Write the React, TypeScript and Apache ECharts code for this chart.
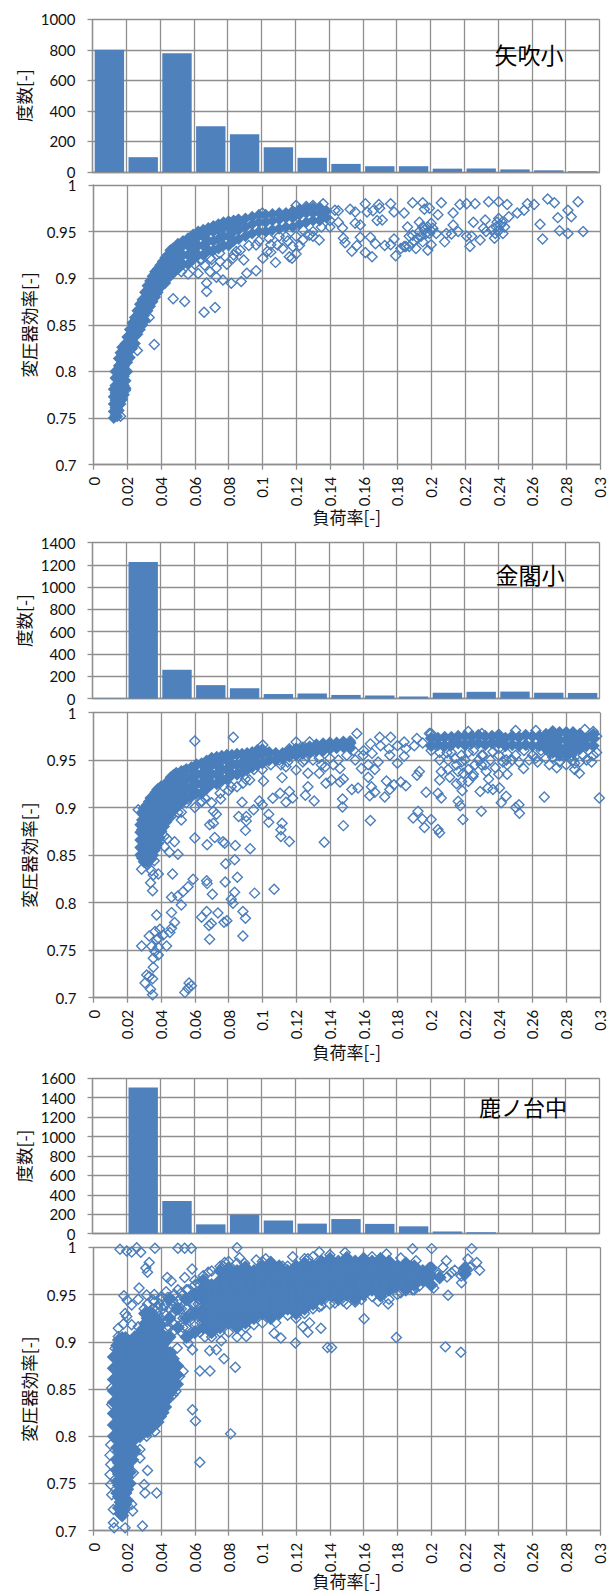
import React, { useEffect, useRef } from "react";
import * as echarts from "echarts";

const binLabels = ["0-0.02","0.02-0.04","0.04-0.06","0.06-0.08","0.08-0.1","0.1-0.12","0.12-0.14","0.14-0.16","0.16-0.18","0.18-0.2","0.2-0.22","0.22-0.24","0.24-0.26","0.26-0.28","0.28-0.3"];

const barsA = [800,97,778,300,248,162,93,53,38,38,22,23,17,11,5];
const barsB = [2,1225,258,120,92,40,45,32,27,18,52,60,62,52,50];
const barsC = [3,1505,335,95,195,135,103,150,100,75,22,14,1,1,0];

// Overplotted clouds, read column by column: [load factor, efficiency, efficiency, ...]
const denseA: number[][] = [
[.012,.75,.757,.765,.773,.781],[.013,.753,.761,.769,.777,.785,.793,.80],[.014,.752,.76,.768,.776,.784,.792,.80],[.015,.758,.766,.774,.782,.79,.798,.806,.814],[.016,.765,.773,.781,.789,.797,.805,.813,.82],
[.017,.77,.778,.786,.794,.802,.81,.818,.826],[.018,.775,.785,.795,.805,.815,.825],[.019,.782,.79,.80,.81,.82,.83],[.020,.80,.81,.82,.83,.837],[.0215,.815,.825,.835,.845],[.023,.825,.835,.845,.852],[.0245,.83,.84,.85,.858],[.026,.84,.85,.858,.865],[.0275,.845,.855,.865,.872],
[.029,.85,.86,.87,.877],[.0305,.855,.865,.875,.885],[.032,.865,.875,.885,.892],[.0335,.87,.88,.89,.897],[.035,.875,.885,.895,.902],[.0365,.88,.89,.90,.907],[.038,.885,.895,.905,.91],[.0395,.89,.90,.91,.914],[.041,.893,.90,.91,.918],[.0425,.895,.905,.915,.922],
[.044,.90,.91,.92,.925],[.0455,.903,.913,.923,.93],[.047,.905,.915,.925,.932],[.05,.91,.92,.93,.937],[.053,.915,.925,.935,.94],[.056,.915,.925,.935,.943],
[.059,.92,.93,.94,.947],[.062,.925,.935,.945,.95],[.065,.925,.935,.945,.952],[.068,.93,.94,.95,.954],[.071,.93,.94,.95,.956],
[.074,.932,.942,.952,.958],[.077,.935,.945,.955,.96],[.08,.935,.945,.955,.961],[.083,.94,.95,.958,.962],[.086,.942,.952,.96,.963],
[.09,.945,.955,.964],[.094,.948,.958,.966],[.098,.95,.96,.968],[.102,.95,.96,.968],[.106,.952,.962,.969],[.11,.953,.963,.97],
[.114,.955,.965,.97],[.118,.955,.965,.972],[.122,.958,.968,.974],[.126,.96,.97,.975],[.13,.962,.97,.976],[.134,.962,.97,.976],[.138,.965,.972],
];
const denseB: number[][] = [
[.028,.85,.858,.866,.874,.882],[.029,.847,.857,.867,.877,.887,.895],[.030,.843,.852,.862,.872,.882,.892,.899],[.031,.848,.858,.868,.878,.888,.898],[.032,.843,.853,.863,.873,.883,.893,.903],[.033,.848,.858,.868,.878,.888,.898,.906],
[.034,.846,.856,.866,.876,.886,.896,.906,.910],[.035,.85,.86,.87,.88,.89,.90,.91],[.036,.855,.865,.875,.885,.895,.905,.913],[.037,.858,.868,.878,.888,.898,.908,.916],[.038,.862,.872,.882,.892,.902,.912,.919],[.039,.868,.878,.888,.898,.908,.918],
[.040,.875,.885,.895,.905,.915,.922],[.0415,.88,.89,.90,.91,.92],[.043,.885,.895,.905,.915,.925],[.0445,.89,.90,.91,.92,.928],[.046,.895,.905,.915,.925,.932],[.0475,.898,.908,.918,.928,.934],[.049,.90,.91,.92,.93,.936],[.0505,.903,.913,.923,.933],
[.052,.905,.915,.925,.935,.938],[.0535,.908,.918,.928,.938],[.055,.91,.92,.93,.94],[.058,.912,.922,.932,.942],[.061,.915,.925,.935,.945],[.064,.915,.925,.935,.946],
[.067,.92,.93,.94,.949],[.07,.925,.935,.945,.952],[.073,.925,.935,.945,.953],[.076,.93,.94,.95,.954],[.079,.93,.94,.95,.955],
[.082,.935,.945,.955],[.085,.935,.945,.956],[.088,.937,.947,.956],[.091,.94,.95,.957],[.094,.943,.953,.958],[.097,.945,.955,.96],
[.1,.947,.957,.961],[.104,.95,.958],[.108,.95,.957],[.112,.952,.957],[.116,.954,.96],[.12,.955,.962],[.124,.957,.963],[.128,.958,.964],
[.132,.96,.966],[.136,.96,.967],[.14,.962,.968],[.144,.963,.968],[.148,.964,.969],[.152,.963,.968],
[.20,.965,.973],[.204,.966,.973],[.208,.965,.974],[.212,.966,.974],[.216,.968,.975],[.22,.966,.975],[.224,.968,.975],[.228,.968,.976],
[.232,.966,.975],[.236,.968,.975],[.24,.968,.975],[.244,.965,.973],[.248,.966,.975],[.252,.965,.974],[.256,.966,.976],[.26,.965,.975],
[.264,.965,.975],[.268,.962,.97,.977],[.272,.958,.966,.974,.98],[.276,.955,.963,.971,.979],[.28,.955,.963,.971,.979],[.284,.958,.966,.974,.979],
[.288,.962,.97,.977],[.292,.965,.973],[.296,.965,.973,.977],
];
const denseC: number[][] = [
[.012,.80,.812,.824,.836,.848,.86,.872,.884],[.014,.74,.752,.764,.776,.788,.80,.812,.824,.836,.848,.86,.872,.884,.896],
[.015,.724,.736,.748,.76,.772,.784,.796,.808,.82,.832,.844,.856,.868,.88,.892,.902],
[.016,.718,.73,.742,.754,.766,.778,.79,.802,.814,.826,.838,.85,.862,.874,.886,.898],
[.017,.716,.728,.74,.752,.764,.776,.788,.80,.812,.824,.836,.848,.86,.872,.884,.896,.904],
[.018,.722,.734,.746,.758,.77,.782,.794,.806,.818,.83,.842,.854,.866,.878,.89,.90],
[.019,.728,.74,.752,.764,.776,.788,.80,.812,.824,.836,.848,.86,.872,.884,.896,.904],
[.02,.732,.744,.756,.768,.78,.792,.804,.816,.828,.84,.852,.864,.876,.888,.898],
[.0215,.75,.762,.774,.786,.798,.81,.822,.834,.846,.858,.87,.882,.894,.90],
[.023,.775,.787,.799,.811,.823,.835,.847,.859,.871,.883,.895,.90],[.0245,.785,.797,.809,.821,.833,.845,.857,.869,.881,.893,.905],[.026,.80,.812,.824,.836,.848,.86,.872,.884,.896,.906],
[.0275,.80,.811,.823,.835,.847,.859,.871,.883,.895,.907],[.029,.805,.817,.829,.841,.853,.865,.877,.889,.901,.913],[.0305,.811,.823,.835,.847,.859,.871,.883,.895,.907,.919,.93],[.032,.805,.817,.829,.841,.853,.865,.877,.889,.901,.913,.925],
[.0335,.811,.823,.835,.847,.859,.871,.883,.895,.907,.919,.93],[.035,.81,.822,.834,.846,.858,.87,.882,.894,.906,.918,.928],[.0365,.816,.828,.84,.852,.864,.876,.888,.90,.912,.924],[.038,.815,.827,.839,.851,.863,.875,.887,.899,.911,.923],
[.0395,.821,.833,.845,.857,.869,.881,.893,.905,.917],[.041,.825,.837,.849,.861,.873,.885,.897,.907],[.0425,.831,.843,.855,.867,.879,.891,.90],[.044,.84,.852,.864,.876,.888],[.0455,.846,.858,.87,.882,.888],[.047,.85,.862,.874,.882],[.0495,.855,.865,.875],
[.045,.905,.925,.945],[.05,.915,.935],[.055,.905,.925,.945],[.06,.91,.93,.95],[.065,.915,.925,.935,.945,.955,.965],[.07,.91,.92,.93,.94,.95,.96],
[.075,.915,.925,.935,.945,.955,.965,.975],[.08,.92,.93,.94,.95,.96,.97,.978],[.085,.915,.925,.935,.945,.955,.965,.975],[.09,.92,.93,.94,.95,.96,.97,.978],
[.095,.925,.935,.945,.955,.965,.975],[.1,.93,.94,.95,.96,.97,.98],[.105,.925,.935,.945,.955,.965,.975,.983],[.11,.93,.94,.95,.96,.97,.98],
[.115,.935,.945,.955,.965,.975],[.12,.93,.94,.95,.96,.97,.98],[.125,.935,.945,.955,.965,.975,.983],[.13,.94,.95,.96,.97,.98],
[.135,.945,.955,.965,.975,.985],[.14,.95,.96,.97,.98,.988],[.145,.945,.955,.965,.975,.985],[.15,.95,.96,.97,.98,.988],[.155,.945,.955,.965,.975,.985],
[.16,.95,.96,.97,.98,.988],[.165,.955,.965,.975,.985],[.17,.95,.96,.97,.98,.988],[.175,.955,.965,.975,.985],[.18,.96,.97,.98],[.185,.955,.965,.975,.983],
[.19,.96,.97,.98],[.195,.965,.975],[.2,.96,.97,.978],[.205,.968],[.22,.972,.978],
];

// Individually readable markers
const pointsA: number[][] = [
[.145,.9725],[.152,.974],[.161,.98],[.169,.979],[.176,.98],[.189,.981],[.195,.981],[.206,.981],[.217,.979],[.221,.98],[.226,.98],[.234,.982],[.24,.982],[.245,.979],[.257,.98],[.261,.979],[.269,.985],[.273,.981],[.287,.982],[.281,.973],[.283,.966],[.275,.965],[.2645,.958],[.266,.942],[.276,.951],[.281,.948],[.29,.95],
[.155,.959],[.158,.957],[.1475,.954],[.168,.962],[.171,.9625],[.155,.971],[.162,.971],[.1655,.9725],[.1695,.975],[.178,.971],[.184,.97],[.196,.974],[.199,.975],[.204,.968],[.213,.97],[.193,.96],[.186,.955],[.2,.959],[.213,.957],[.225,.96],[.232,.9625],[.24,.964],[.246,.966],[.251,.97],[.255,.973],
[.148,.943],[.149,.938],[.153,.929],[.156,.935],[.158,.944],[.164,.944],[.167,.937],[.161,.9275],[.165,.923],[.1725,.935],[.176,.936],[.178,.942],[.179,.924],[.184,.934],[.187,.934],[.191,.932],[.198,.93],[.2,.936],[.189,.946],[.192,.943],[.199,.948],[.201,.9535],[.196,.952],[.187,.945],[.208,.939],[.209,.948],[.212,.9475],[.216,.95],[.221,.945],[.224,.945],[.223,.934],[.229,.941],[.231,.9535],[.2375,.943],[.2425,.948],[.2325,.95],[.2385,.955],[.2435,.955],[.195,.939],[.185,.934],[.203,.948],[.182,.932],
[.193,.95],[.195,.955],[.197,.948],[.198,.955],[.2,.951],[.19,.94],[.194,.945],[.238,.948],[.24,.951],[.241,.957],[.239,.96],[.242,.96],[.236,.952],
[.0472,.878],[.054,.875],[.0655,.8636],[.072,.8686],[.067,.8857],[.033,.858],[.0816,.8946],[.0875,.8964],[.0908,.9054],[.0963,.908],[.1078,.917],[.1003,.9214],[.116,.923],[.1176,.9214],[.056,.9046],[.0767,.898],[.067,.895],[.062,.905],[.069,.907],[.0728,.901],[.0728,.911],[.0658,.914],[.069,.9214],[.0747,.9268],[.0826,.9214],[.089,.9196],[.0846,.9286],[.0963,.9357],[.103,.9286],[.109,.9357],[.118,.934],[.124,.941],[.1337,.941],[.128,.9464],[.114,.9446],[.105,.936],[.052,.907],[.045,.91],
[.036,.829],[.026,.8225],[.0465,.925],[.0855,.9625],[.1,.97],[.12,.978],[.126,.977],[.13,.978],[.136,.98],[.143,.973],[.03,.86],[.024,.85],[.019,.78],[.016,.752],[.024,.84],
[.06,.915],[.064,.92],[.07,.92],[.075,.918],[.079,.915],[.083,.925],[.087,.93],[.092,.935],[.098,.94],[.104,.943],[.11,.945],[.115,.94],[.12,.945],[.124,.952],[.13,.95],[.135,.955],[.14,.955],[.14,.962],[.145,.96],[.105,.928],[.112,.932],[.12,.926],[.122,.935],[.13,.945],
];
const pointsB: number[][] = [
[.156,.978],[.152,.97],[.1695,.974],[.176,.974],[.184,.969],[.1915,.9726],[.199,.978],[.164,.967],[.1597,.955],[.154,.96],[.1755,.955],[.18,.9465],[.184,.954],[.1686,.948],[.1587,.941],[.1627,.945],[.1666,.94],[.146,.941],[.142,.945],[.1627,.932],[.148,.93],[.146,.927],[.141,.929],[.1735,.928],[.182,.927],[.185,.923],[.178,.924],[.1646,.922],[.1567,.9205],[.153,.919],[.1755,.919],[.1636,.9125],[.1666,.916],[.1725,.911],[.197,.916],[.204,.915],[.206,.91],[.1475,.909],[.1475,.9007],[.164,.8865],[.148,.881],[.193,.938],[.1916,.934],[.205,.95],[.206,.938],[.205,.929],[.211,.932],[.2094,.9576],[.216,.938],[.218,.948],[.219,.936],[.218,.9274],[.222,.9274],[.2247,.9326],[.2184,.9177],[.216,.9066],[.2172,.902],[.2188,.8875],[.2297,.896],[.1893,.889],[.1922,.896],[.1948,.888],[.2,.8875],[.196,.879],[.204,.877],[.205,.8736],
[.2326,.938],[.2297,.945],[.2336,.9205],[.229,.917],[.2366,.919],[.2405,.9205],[.2444,.912],[.2415,.905],[.25,.9],[.252,.903],[.2523,.894],[.267,.911],[.2996,.91],[.2425,.948],[.2445,.95],[.2547,.941],[.2744,.942],[.285,.94],[.2878,.936],[.285,.9465],[.2306,.955],[.2366,.9587],
[.24,.962],[.245,.957],[.25,.955],[.255,.96],[.26,.955],[.265,.96],[.262,.952],[.27,.958],[.272,.953],[.275,.962],[.278,.955],[.28,.96],[.283,.955],[.286,.962],[.29,.955],[.293,.96],[.296,.955],[.298,.958],[.298,.975],[.296,.98],[.291,.982],[.287,.975],[.225,.96],[.23,.955],[.218,.955],[.222,.958],[.214,.952],[.222,.98],[.2,.978],[.25,.981],[.262,.981],[.23,.978],[.24,.977],
[.06,.97],[.0828,.974],[.0265,.8976],[.052,.895],[.052,.887],[.06,.868],[.0753,.909],[.064,.906],[.056,.909],[.071,.896],[.0728,.893],[.0688,.882],[.071,.8836],[.0673,.861],[.0718,.8685],[.0767,.864],[.0777,.8625],[.084,.86],[.0928,.8566],[.116,.8643],[.111,.8696],[.111,.8766],[.1117,.8836],[.1367,.8636],[.09,.876],[.086,.8906],[.088,.9056],[.0905,.8906],[.0905,.886],[.1038,.893],[.1038,.8846],[.0983,.907],[.0948,.8976],[.1,.903],[.1062,.9098],[.1105,.915],[.116,.917],[.114,.9056],[.118,.91],[.1255,.913],[.1307,.907],[.127,.922],[.1117,.9315],[.127,.936],[.1007,.928],[.0885,.9255],[.0925,.929],[.0816,.922],[.0747,.9255],[.064,.907],[.1337,.936],[.1373,.943],[.1337,.952],[.1377,.9255],[.12,.9395],[.114,.943],[.124,.948],[.116,.962],[.12,.969],[.128,.969],[.1003,.9657],[.1042,.9535],[.108,.957],[.111,.945],[.0437,.867],[.042,.87],[.042,.859],[.048,.864],[.045,.853],[.05,.851],[.036,.844],[.046,.8905],
[.0285,.835],[.0315,.841],[.0344,.8336],[.0384,.83],[.0354,.829],[.0468,.83],[.0338,.821],[.035,.8126],[.0783,.841],[.0836,.845],[.059,.8245],[.056,.8168],[.053,.8115],[.05,.807],[.0462,.8056],[.052,.7975],[.067,.823],[.0673,.82],[.0704,.8087],[.078,.8217],[.0852,.8266],[.0836,.811],[.0954,.81],[.107,.814],[.0816,.8035],[.0826,.7993],[.0462,.7895],[.0374,.787],[.064,.7846],[.067,.7906],[.0737,.789],[.0698,.778],[.0684,.776],[.0773,.7794],[.079,.781],[.0885,.7906],[.09,.7836],[.0885,.765],[.0688,.7615],[.048,.779],[.0462,.773],[.0452,.7685],[.0393,.772],[.0364,.7696],[.033,.765],[.0413,.766],[.0384,.7626],[.0433,.7545],[.0285,.7545],[.0344,.754],[.0384,.753],[.0364,.7486],[.0354,.7416],[.0384,.745],[.0354,.732],[.0315,.724],[.033,.7224],[.0305,.7154],[.035,.72],[.0338,.709],[.035,.703],[.0541,.7056],[.056,.71],[.058,.7126],[.0566,.7154],[.0374,.761],
[.05,.895],[.055,.905],[.06,.9],[.066,.91],[.07,.905],[.075,.915],[.08,.918],[.085,.922],[.09,.93],[.095,.94],[.1,.94],[.105,.945],[.11,.95],[.115,.948],[.125,.95],[.13,.95],[.135,.945],[.14,.952],[.145,.95],[.15,.955],[.155,.95],[.16,.96],[.165,.957],[.17,.965],[.175,.962],[.18,.965],[.185,.962],[.19,.965],[.195,.968],[.2,.96],[.205,.958],[.21,.95],[.212,.958],[.215,.945],[.22,.95],[.222,.94],[.226,.945],[.228,.95],[.232,.945],[.235,.95],[.238,.942],[.24,.955],[.245,.945],[.248,.95],[.252,.948],[.258,.95],[.263,.948],[.268,.952],[.27,.945],[.276,.948],[.28,.945],[.284,.95],[.288,.948],[.292,.95],[.295,.948],[.234,.93],[.24,.935],[.225,.935],[.21,.94],[.215,.925],[.245,.935],
];
const pointsC: number[][] = [
[.189,.9985],[.2003,.9986],[.224,.9986],[.149,.9946],[.1735,.993],[.182,.9886],[.191,.9857],[.209,.9857],[.2218,.9875],[.227,.984],[.2287,.9757],[.207,.9786],[.2094,.9686],[.214,.9757],[.218,.9625],[.21,.9493],[.2015,.957],[.1603,.9243],[.1794,.9046],[.2084,.8946],[.2176,.889],[.141,.894],[.1745,.94],[.1686,.943],[.1587,.9446],[.143,.941],[.148,.943],[.182,.952],[.189,.955],[.1774,.957],[.219,.975],[.221,.977],[.223,.9786],[.2178,.9696],[.22,.971],[.212,.973],[.204,.971],[.199,.9786],[.195,.971],[.198,.964],[.193,.959],[.187,.959],[.184,.971],[.187,.98],
[.0157,.998],[.0197,.996],[.0226,.995],[.0256,.9996],[.028,.9947],[.0364,.999],[.05,.999],[.054,.999],[.058,.999],[.085,.9996],[.033,.984],[.031,.978],[.032,.9736],[.027,.957],[.018,.9486],[.0265,.945],[.0315,.9496],[.02,.944],[.0226,.939],[.0187,.93],[.0177,.9187],[.0147,.9144],[.0197,.9268],[.0226,.918],[.0265,.916],
[.0437,.968],[.046,.9644],[.054,.968],[.0584,.977],[.062,.962],[.068,.9736],[.0403,.948],[.0354,.944],[.0777,.984],[.0767,.98],[.0865,.989],[.0964,.9866],[.102,.988],[.112,.98],[.118,.99],[.127,.988],[.1337,.995],[.0895,.983],
[.063,.869],[.069,.869],[.084,.873],[.0773,.882],[.0688,.8905],[.0728,.8915],[.0905,.9056],[.0757,.901],[.0586,.8915],[.0496,.8933],[.056,.8986],[.0586,.828],[.0604,.816],[.0812,.8025],[.063,.7725],[.032,.7637],[.0236,.7613],[.03,.749],[.0305,.74],[.0374,.74],[.0232,.7208],[.0226,.728],[.029,.705],[.0187,.703],[.0122,.703],[.0118,.7085],[.0275,.777],[.0275,.786],[.0102,.77],[.0098,.7595],[.0102,.749],[.0108,.738],[.0118,.7225],
[.111,.904],[.107,.909],[.1196,.8986],[.127,.91],[.1347,.9144],[.1386,.894],[.124,.916],[.128,.92],[.1337,.937],[.122,.944],[.108,.92],[.0108,.851],[.0108,.8335],[.0102,.791],[.0098,.78],[.0531,.8687],[.051,.8634],[.0488,.8475],[.0472,.844],[.0433,.837],[.0393,.823],[.0364,.805],[.0315,.8],[.0128,.893],[.0147,.9056],
[.03,.935],[.032,.94],[.034,.932],[.036,.942],[.038,.936],[.04,.945],[.042,.938],[.044,.947],[.046,.94],[.048,.95],[.05,.943],[.052,.952],[.054,.945],[.056,.955],[.058,.948],[.06,.96],[.04,.925],[.043,.915],[.045,.935],[.047,.92],[.05,.925],[.053,.915],[.055,.935],[.057,.922],[.06,.94],[.062,.93],[.064,.92],[.066,.905],[.058,.91],[.063,.91],[.07,.905],[.075,.91],[.08,.91],[.085,.905],[.09,.915],[.095,.918],[.1,.92],[.105,.925],[.11,.93],[.115,.928],[.12,.925],[.125,.93],[.13,.935],[.135,.938],[.14,.94],[.15,.94],[.155,.942],[.165,.948],[.17,.948],[.175,.945],[.18,.95],[.19,.955],[.055,.955],[.06,.965],[.065,.97],[.07,.975],[.075,.98],[.08,.985],[.085,.983],[.09,.98],[.1,.985],[.105,.985],[.11,.98],[.115,.98],[.125,.988],[.13,.99],[.14,.992],[.15,.99],[.16,.988],[.165,.99],[.175,.985],
[.035,.935],[.033,.925],[.037,.92],[.041,.935],[.049,.935],[.052,.935],[.057,.93],[.059,.94],[.063,.945],[.067,.94],[.061,.95],
[.042,.93],[.044,.922],[.046,.928],[.048,.912],[.051,.945],[.053,.925],[.055,.915],[.058,.93],[.06,.92],[.062,.94],[.064,.95],[.066,.96],[.047,.944],[.05,.955],[.043,.953],[.036,.95],[.039,.94],[.045,.915],[.052,.91],[.056,.905],
];

const seriesNames = ["矢吹小", "金閣小", "鹿ノ台中"];
const yName = "変圧器効率[-]";
const xName = "負荷率[-]";
const countName = "度数[-]";

const panels = [
  { bars: barsA, dense: denseA, points: pointsA, max: 1000, bar: [92.5, 19.3, 507, 152.7], sc: [93.5, 185, 506.5, 279.7], title: [529, 54, 23], gap: 43, core: 12 },
  { bars: barsB, dense: denseB, points: pointsB, max: 1400, bar: [92.5, 542.5, 507, 156], sc: [93.5, 712.5, 506.5, 285.2], title: [530, 574, 23], gap: 45.5, core: 13 },
  { bars: barsC, dense: denseC, points: pointsC, max: 1600, bar: [92.5, 1078.3, 507, 155.3], sc: [93.5, 1247.3, 506.5, 283.4], title: [523, 1106, 22], gap: 41, core: 14 },
];

const GRAY = "#8f8f8f";
const BLUE = "#4a7ebb";
const LAT = "Lato, Carlito, sans-serif";
const CJK = "'Noto Sans CJK JP', sans-serif";
const line = { show: true, lineStyle: { color: GRAY, width: 1.3 } };

function buildOption() {
  const grid: any[] = [], xAxis: any[] = [], yAxis: any[] = [], series: any[] = [], graphic: any[] = [];
  panels.forEach((p, i) => {
    const a = i * 2, b = i * 2 + 1;
    grid.push({ left: p.bar[0], top: p.bar[1], width: p.bar[2], height: p.bar[3] });
    grid.push({ left: p.sc[0], top: p.sc[1], width: p.sc[2], height: p.sc[3] });
    xAxis.push({
      type: "category", gridIndex: a, data: binLabels, axisLabel: { show: false }, axisTick: { show: false },
      axisLine: line, splitLine: { ...line, interval: 0 },
    });
    yAxis.push({
      type: "value", gridIndex: a, min: 0, max: p.max, interval: 200,
      axisLine: line, axisTick: { show: true, length: 5, lineStyle: { color: GRAY, width: 1.3 } }, splitLine: line,
      axisLabel: { fontFamily: LAT, fontSize: 15, color: "#111", margin: 17, formatter: (v: number) => String(v) },
      name: countName, nameLocation: "middle", nameRotate: 90, nameGap: 60, nameMoveOverlap: false,
      nameTextStyle: { fontFamily: CJK, fontSize: 17.5, color: "#111" },
    });
    xAxis.push({
      type: "value", gridIndex: b, min: 0, max: 0.3, interval: 0.02,
      axisLine: line, axisTick: { show: true, length: 5, lineStyle: { color: GRAY, width: 1.3 } }, splitLine: line,
      axisLabel: { fontFamily: LAT, fontSize: 15, color: "#111", rotate: 90, margin: 12 },
      name: xName, nameLocation: "middle", nameGap: p.gap, nameMoveOverlap: false,
      nameTextStyle: { fontFamily: CJK, fontSize: 17, color: "#111" },
    });
    yAxis.push({
      type: "value", gridIndex: b, min: 0.7, max: 1, interval: 0.05,
      axisLine: line, axisTick: { show: true, length: 5, lineStyle: { color: GRAY, width: 1.3 } }, splitLine: line,
      axisLabel: { fontFamily: LAT, fontSize: 15, color: "#111", margin: 17 },
      name: yName, nameLocation: "middle", nameRotate: 90, nameGap: 56, nameMoveOverlap: false,
      nameTextStyle: { fontFamily: CJK, fontSize: 17.5, color: "#111" },
    });
    series.push({
      type: "bar", name: seriesNames[i] + " " + countName, xAxisIndex: a, yAxisIndex: a, data: p.bars,
      barCategoryGap: "13%", itemStyle: { color: "#4f81bd" }, silent: true,
    });
    series.push({
      type: "scatter", name: seriesNames[i] + " dense", xAxisIndex: b, yAxisIndex: b, clip: false, silent: true,
      symbol: "diamond", symbolSize: p.core, itemStyle: { color: BLUE, opacity: 1 },
      data: p.dense.flatMap((c) => c.slice(1).map((y) => [c[0], y])),
    });
    series.push({
      type: "scatter", name: seriesNames[i], xAxisIndex: b, yAxisIndex: b, clip: false, silent: true,
      symbol: "diamond", symbolSize: 10,
      itemStyle: { color: "rgba(255,255,255,0)", borderColor: BLUE, borderWidth: 1.4, opacity: 1 },
      data: p.points,
    });
    graphic.push({
      type: "text", x: p.title[0], y: p.title[1], z: 100,
      style: { text: seriesNames[i], fontFamily: CJK, fontSize: p.title[2], fill: "#000", textAlign: "center", textVerticalAlign: "middle", verticalAlign: "middle" },
    });
  });
  return { animation: false, backgroundColor: "#fff", grid, xAxis, yAxis, series, graphic };
}

export default function App() {
  const ref = useRef<HTMLDivElement>(null);
  useEffect(() => {
    const chart = echarts.init(ref.current!, undefined, { renderer: "svg" });
    chart.setOption(buildOption() as any);
    return () => chart.dispose();
  }, []);
  return <div ref={ref} style={{ position: "absolute", left: 0, top: 0, width: 608, height: 1591 }} />;
}
